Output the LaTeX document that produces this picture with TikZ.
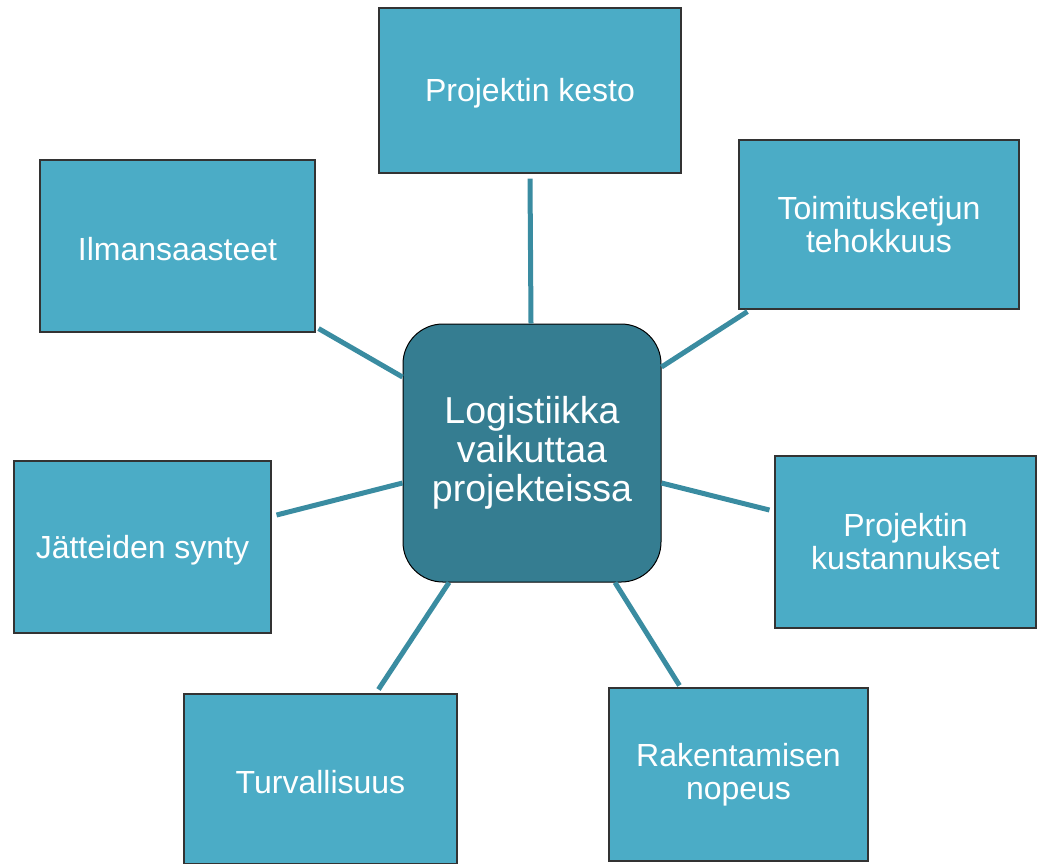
\documentclass[tikz,border=0pt]{standalone}
\usepackage{fontspec}
\setmainfont{Liberation Sans}
\usetikzlibrary{calc}
\definecolor{boxfill}{HTML}{4BACC6}
\definecolor{hubfill}{HTML}{357D91}
\definecolor{linkcol}{HTML}{3A8CA1}
\definecolor{edgecol}{HTML}{333333}
\begin{document}
\begin{tikzpicture}[x=1pt,y=-1pt,
  topic/.style={draw=edgecol, line width=1.1pt, fill=boxfill, text=white,
    inner sep=0pt, align=center, font=\fontsize{32}{33}\selectfont,
    execute at begin node={\rule{0pt}{29.5pt}}},
  hub/.style={draw=black, line width=1pt, fill=hubfill, text=white,
    rounded corners=40pt, inner sep=0pt, align=center,
    minimum width=258pt, minimum height=258pt,
    font=\fontsize{37.5}{39}\selectfont,
    execute at begin node={\rule{0pt}{33pt}}},
  link/.style={draw=linkcol, line width=5pt}]
\clip (0,0) rectangle (1043,863);

% central node
\node[hub] (c) at (532,453) {Logistiikka\\vaikuttaa\\projekteissa};

% surrounding topics
\node[topic, minimum width=302pt, minimum height=165pt] (kesto) at (530,90.5) {Projektin kesto};
\node[topic, minimum width=280pt, minimum height=169pt] (toim) at (879,224.5) {Toimitusketjun\\tehokkuus};
\node[topic, minimum width=275pt, minimum height=172pt] (ilma) at (177.5,246) {Ilmansaasteet};
\node[topic, minimum width=261pt, minimum height=172pt] (kust) at (905.5,542) {Projektin\\kustannukset};
\node[topic, minimum width=257pt, minimum height=172pt] (jatt) at (142.5,547) {Jätteiden synty};
\node[topic, minimum width=273pt, minimum height=170pt] (turv) at (320.5,779) {Turvallisuus};
\node[topic, minimum width=259pt, minimum height=173pt] (rak) at (738.5,774.5) {Rakentamisen\\nopeus};

% spokes
\draw[link] ($(c.north)+(-1,0)$) -- ($(kesto.south)+(0,5)$);
\draw[link] ($(c.east)+(0,-86)$) -- ($(toim.south west)+(9,2)$);
\draw[link] ($(c.east)+(0,30)$) -- ($(kust.west)+(-5,-32)$);
\draw[link] ($(c.south)+(83,0)$) -- ($(rak.north west)+(71,-2)$);
\draw[link] ($(c.south)+(-83,0)$) -- ($(turv.north west)+(195,-4)$);
\draw[link] ($(c.west)+(0,30)$) -- ($(jatt.east)+(5,-32)$);
\draw[link] ($(c.west)+(0,-76)$) -- ($(ilma.south east)+(3,-4)$);
\end{tikzpicture}
\end{document}
